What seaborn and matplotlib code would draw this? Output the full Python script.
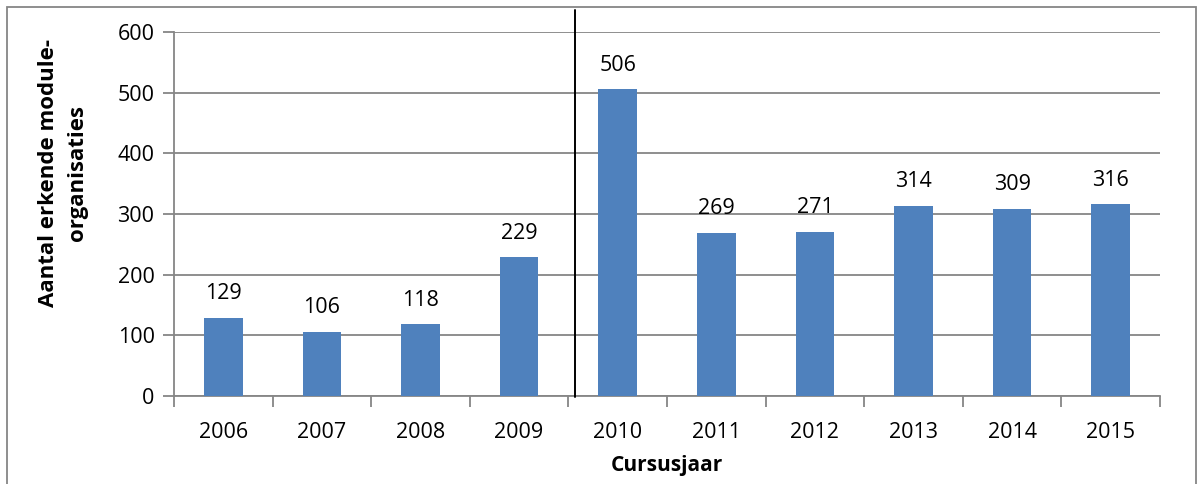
import matplotlib
matplotlib.use("Agg")
import matplotlib.pyplot as plt
import seaborn as sns
import pandas as pd
from matplotlib.patches import Rectangle
from matplotlib.lines import Line2D

years = ["2006", "2007", "2008", "2009", "2010", "2011", "2012", "2013", "2014", "2015"]
values = [129, 106, 118, 229, 506, 269, 271, 314, 309, 316]
y_ticks = [0, 100, 200, 300, 400, 500, 600]

sns.set_theme(style="white")
plt.rcParams['font.family'] = ['Open Sans', 'DejaVu Sans']
plt.rcParams['text.color'] = 'black'
plt.rcParams['xtick.color'] = 'black'
plt.rcParams['ytick.color'] = 'black'
plt.rcParams['axes.labelcolor'] = 'black'

df = pd.DataFrame({"year": years, "value": values})

W, H = 1199, 484
fig = plt.figure(figsize=(W / 100, H / 100), dpi=100)
ax = fig.add_axes([174 / W, 1 - 396 / H, (1160 - 174) / W, (396 - 32) / H])

sns.barplot(data=df, x="year", y="value", color="#4F81BD", saturation=1, width=0.39,
            linewidth=0, ax=ax, zorder=3)

ax.set_ylim(0, 600)
ax.set_xlim(-0.5, 9.5)
ax.set_yticks(y_ticks)
ax.yaxis.grid(True, color="#868686", linewidth=1.3, zorder=0)
for s in ["top", "right"]:
    ax.spines[s].set_visible(False)
for s in ["left", "bottom"]:
    ax.spines[s].set_color("#868686")
    ax.spines[s].set_linewidth(1.3)

ax.tick_params(axis="y", which="major", length=8, width=1.3, color="#868686", left=True,
               labelsize=15.5, pad=6, labelcolor="black")
ax.tick_params(axis="x", which="major", length=0, labelsize=15.5, pad=19, labelcolor="black")
ax.set_xticks(range(len(years)))
ax.set_xticks([i - 0.5 for i in range(len(years) + 1)], minor=True)
ax.tick_params(axis="x", which="minor", length=8, width=1.3, color="#868686", bottom=True)

for i, v in enumerate(values):
    ax.text(i, v + 22, str(v), ha="center", va="bottom", fontsize=15.5, color="black")

ax.set_xlabel("Cursusjaar", fontsize=15, fontweight="bold", labelpad=8)
ax.set_ylabel("Aantal erkende module-\norganisaties", fontsize=16, fontweight="bold",
              linespacing=1.55, va="center", ha="center")
ax.yaxis.set_label_coords(-0.1126, 0.613)

# vertical separator line
fig.add_artist(Line2D([575 / W, 575 / W], [1 - 10 / H, 1 - 397 / H], color="black", linewidth=1.4))

# outer border
fig.add_artist(Rectangle((7 / W, -0.01), 1 - 10 / W, 1 - 7 / H + 0.01, fill=False,
                         edgecolor="#868686", linewidth=1.3, transform=fig.transFigure))

fig.savefig("out.png", dpi=100)
